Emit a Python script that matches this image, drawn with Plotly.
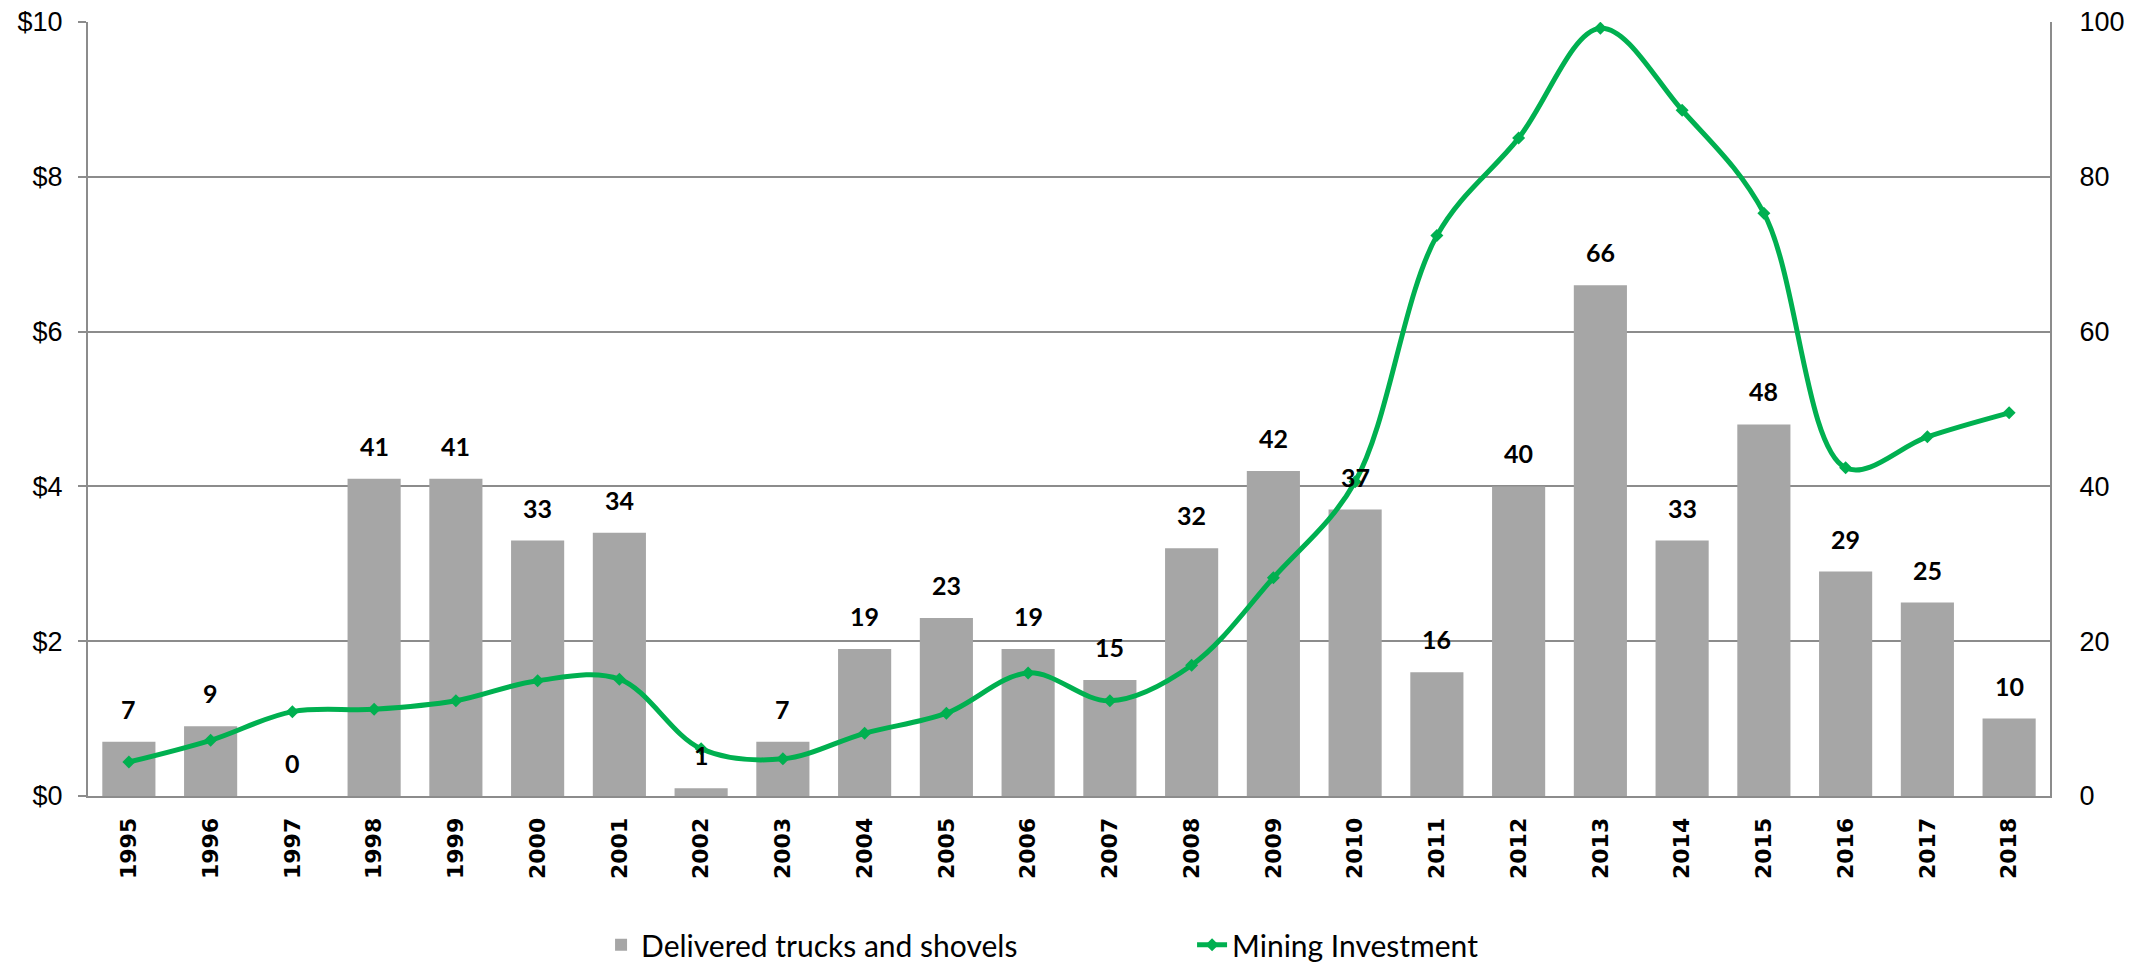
import plotly.graph_objects as go

years = [str(y) for y in range(1995, 2019)]
trucks = [7, 9, 0, 41, 41, 33, 34, 1, 7, 19, 23, 19, 15, 32, 42, 37, 16, 40, 66, 33, 48, 29, 25, 10]
investment = [0.44, 0.72, 1.09, 1.12, 1.23, 1.49, 1.51, 0.61, 0.48, 0.81, 1.07, 1.59,
              1.23, 1.69, 2.82, 4.06, 7.24, 8.50, 9.92, 8.86, 7.53, 4.24, 4.64, 4.95]
left_ticks = [0, 2, 4, 6, 8, 10]
left_labels = ["$0", "$2", "$4", "$6", "$8", "$10"]
right_ticks = [0, 20, 40, 60, 80, 100]

GRID = "#8c8c8c"
TICKFONT = dict(family="Liberation Sans, Arial", size=27, color="#000000")

fig = go.Figure()

# bars sit on the primary axis (right side) so the line on y2 is drawn over them
fig.add_trace(go.Bar(
    x=years, y=trucks, name="Delivered trucks and shovels", yaxis="y",
    marker=dict(color="#a6a6a6", line=dict(width=0)),
))

fig.add_trace(go.Scatter(
    x=years, y=investment, name="Mining Investment", yaxis="y2",
    mode="lines+markers",
    line=dict(color="#00b050", width=5, shape="spline", smoothing=1.0),
    marker=dict(symbol="diamond", size=10, color="#00b050"),
))

# value labels above the bars
for i, v in enumerate(trucks):
    fig.add_annotation(
        x=i, y=v, xref="x", yref="y", text=f"<b>{v}</b>", showarrow=False,
        yanchor="bottom", yshift=16,
        font=dict(family="Lato, Open Sans", size=25, color="#000000"),
    )

# page body keeps its default 8px margin, so the figure starts 8px in
fig.update_layout(
    width=2139, height=955,
    paper_bgcolor="white", plot_bgcolor="white",
    margin=dict(l=80, r=97, t=14, b=167, autoexpand=False),
    bargap=0.35,
    showlegend=True,
    legend=dict(
        orientation="h", x=0.2615, xanchor="left",
        yref="container", y=0.019, yanchor="middle",
        font=dict(family="Lato, Open Sans", size=30, color="#000000"),
        entrywidth=546, entrywidthmode="pixels",
    ),
    xaxis=dict(
        type="category", tickangle=-90, showgrid=False, automargin=False,
        showline=True, linecolor=GRID, linewidth=2,
        ticks="", ticklabelstandoff=11,
        tickfont=dict(family="DejaVu Sans", size=22, color="#000000", weight="bold"),
        range=[-0.5, 23.5],
    ),
    yaxis=dict(
        range=[0, 100], tickvals=right_ticks, side="right", automargin=False,
        showgrid=True, gridcolor=GRID, gridwidth=1.5,
        showline=True, linecolor=GRID, linewidth=2,
        ticks="", ticklabelstandoff=22, ticklabeloverflow="allow",
        tickfont=TICKFONT, zeroline=False,
    ),
    yaxis2=dict(
        range=[0, 10], tickvals=left_ticks, ticktext=left_labels,
        overlaying="y", side="left", showgrid=False, automargin=False,
        showline=True, linecolor=GRID, linewidth=2,
        ticks="outside", ticklen=8, tickcolor=GRID, tickwidth=1.5,
        ticklabelstandoff=10, ticklabeloverflow="allow",
        tickfont=TICKFONT, zeroline=False,
    ),
)

fig.write_html("out.html")
